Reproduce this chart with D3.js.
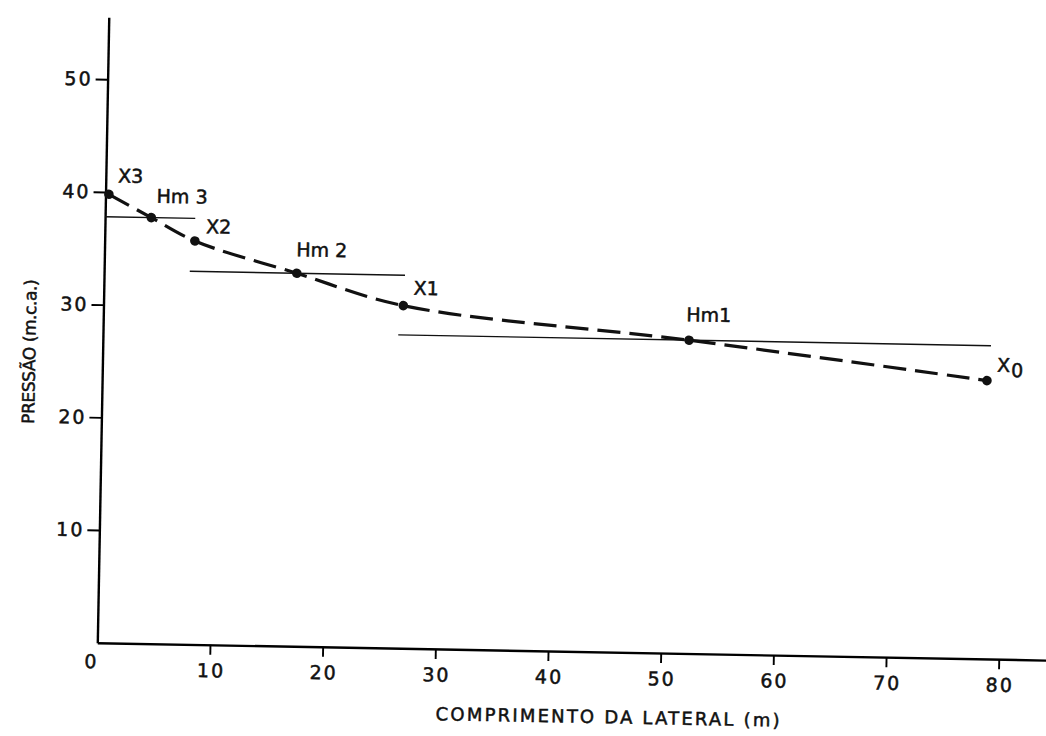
<!DOCTYPE html>
<html>
<head>
<meta charset="utf-8">
<script src="https://cdn.jsdelivr.net/npm/d3@7"></script>
<style>
  body { margin: 0; background: #fff; }
  svg { display: block; font-family: "DejaVu Sans", sans-serif; }
  text { stroke: #111; stroke-width: 0.5px; }
</style>
</head>
<body>
<div id="chart"></div>
<script>
// points along the lateral: distance (m) and pressure (m.c.a.)
const pointNames = ["X3", "Hm 3", "X2", "Hm 2", "X1", "Hm1", "X0"];
const pointDist = [0.3, 4.1, 8.0, 17.1, 26.6, 52.0, 78.5];
const pointPress = [39.8, 37.8, 35.8, 33.1, 30.4, 27.8, 24.7];

// horizontal lines of the mean pressure in each stretch
const hmStart = [0, 7.6, 26.2];
const hmEnd = [8.0, 26.7, 78.8];
const hmPress = [37.8, 33.1, 27.8];

const xTicks = [0, 10, 20, 30, 40, 50, 60, 70, 80];
const yTicks = [10, 20, 30, 40, 50];

// general settings
const width = 1046, height = 736;
const ox = 97.3, oy = 642.7, unit = 11.27;
const tilt = 1.05; // the scanned sheet is slightly rotated

// label placement next to each point (px)
const labelOffset = {
    "X3": [9, -12], "Hm 3": [5, -15], "X2": [11, -8], "Hm 2": [-1, -17],
    "X1": [10, -11], "Hm1": [-3, -19], "X0": [10, -9]
};

const x = d3.scaleLinear().domain([0, 84.5]).range([ox, ox + 84.5 * unit]);
const y = d3.scaleLinear().domain([0, 55.5]).range([oy, oy - 55.5 * unit]);

const svg = d3.select('#chart').append('svg')
    .attr('width', width)
    .attr('height', height);

const g = svg.append('g')
    .attr('transform', `rotate(${tilt},${ox},${oy})`);

// x axis
const xAxis = g.append('g')
    .attr('transform', `translate(0,${oy})`)
    .call(d3.axisBottom(x).tickValues(xTicks).tickSize(10).tickPadding(9).tickSizeOuter(0));
xAxis.select('.domain').attr('stroke-width', 2.4);
xAxis.selectAll('.tick line').attr('stroke-width', 1.9)
    .attr('display', d => d === 0 ? 'none' : null);
xAxis.selectAll('.tick text')
    .attr('font-size', 19).attr('letter-spacing', 2).attr('fill', '#111')
    .attr('font-family', '"DejaVu Sans", sans-serif')
    .attr('dx', d => d === 0 ? -6 : 1)
    .attr('y', d => d === 0 ? 12 : 19);

// y axis
const yAxis = g.append('g')
    .attr('transform', `translate(${ox},0)`)
    .call(d3.axisLeft(y).tickValues(yTicks).tickSize(12).tickPadding(3).tickSizeOuter(0));
yAxis.select('.domain').attr('stroke-width', 2.4);
yAxis.selectAll('.tick line').attr('stroke-width', 1.9);
yAxis.selectAll('.tick text')
    .attr('font-size', 19).attr('letter-spacing', 2).attr('fill', '#111')
    .attr('font-family', '"DejaVu Sans", sans-serif');

// axis titles
g.append('text')
    .attr('x', 610).attr('y', 714)
    .attr('text-anchor', 'middle')
    .attr('font-size', 18).attr('letter-spacing', 2.2).attr('fill', '#111')
    .text('COMPRIMENTO DA LATERAL (m)');

g.append('text')
    .attr('transform', 'translate(30,353) rotate(-90)')
    .attr('text-anchor', 'middle')
    .attr('font-size', 17).attr('letter-spacing', -0.4).attr('fill', '#111')
    .text('PRESSÃO (m.c.a.)');

// thin horizontal lines
g.selectAll('.hm')
    .data(hmPress)
    .join('line')
    .attr('class', 'hm')
    .attr('x1', (d, i) => x(hmStart[i]))
    .attr('x2', (d, i) => x(hmEnd[i]))
    .attr('y1', d => y(d))
    .attr('y2', d => y(d))
    .attr('stroke', '#111')
    .attr('stroke-width', 1.4);

// dashed pressure curve
const pts = pointNames.map((n, i) => ({ name: n, x: pointDist[i], y: pointPress[i] }));
g.append('path')
    .datum(pts)
    .attr('fill', 'none')
    .attr('stroke', '#111')
    .attr('stroke-width', 3.2)
    .attr('stroke-dasharray', '23 9')
    .attr('d', d3.line().x(d => x(d.x)).y(d => y(d.y)).curve(d3.curveCatmullRom.alpha(0.5)));

g.selectAll('.pt')
    .data(pts)
    .join('circle')
    .attr('class', 'pt')
    .attr('cx', d => x(d.x))
    .attr('cy', d => y(d.y))
    .attr('r', 4.8)
    .attr('fill', '#111');

// point labels
const lab = g.selectAll('.lab')
    .data(pts)
    .join('text')
    .attr('class', 'lab')
    .attr('x', d => x(d.x) + labelOffset[d.name][0])
    .attr('y', d => y(d.y) + labelOffset[d.name][1])
    .attr('font-size', 19).attr('fill', '#111');
lab.filter(d => d.name !== 'X0').text(d => d.name);
lab.filter(d => d.name === 'X0').each(function() {
    const t = d3.select(this);
    t.append('tspan').text('X');
    t.append('tspan').attr('dy', 5).attr('dx', 1).text('0');
});
</script>
</body>
</html>
